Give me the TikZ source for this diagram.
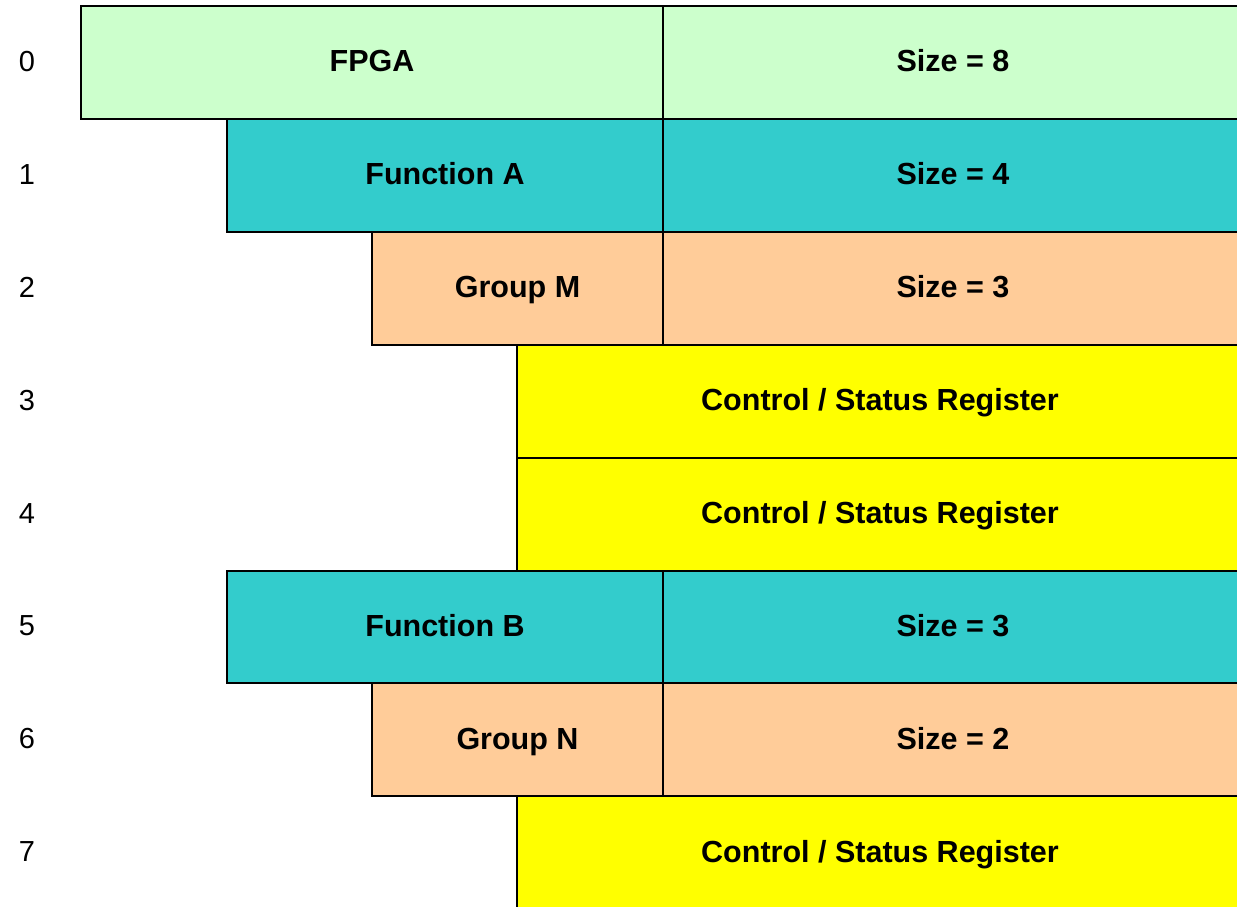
\documentclass[tikz,border=0pt]{standalone}
\usepackage{fontspec}
\setmainfont{Liberation Sans}
\definecolor{fpgafill}{HTML}{CCFFCC}
\definecolor{funcfill}{HTML}{33CCCC}
\definecolor{grpfill}{HTML}{FFCC99}
\definecolor{regfill}{HTML}{FFFF00}
\begin{document}
\begin{tikzpicture}[x=1pt,y=-1pt,
  cell/.style={draw=black, line width=2pt, inner sep=0pt,
    minimum height=112.9pt, text height=19pt, text depth=0pt,
    font=\fontsize{30.5}{36}\selectfont\bfseries},
  fpgacell/.style={cell, fill=fpgafill},
  funccell/.style={cell, fill=funcfill},
  grpcell/.style={cell, fill=grpfill},
  regcell/.style={cell, fill=regfill, minimum width=726pt},
  sizecell/.style={minimum width=580pt},
  idx/.style={inner sep=0pt, text height=18pt, text depth=0pt,
    font=\fontsize{29}{34}\selectfont}]
\useasboundingbox (0,0) rectangle (1237,907);
\clip (0,0) rectangle (1237,907);

% register map rows: pitch 112.9, first row top at 6
\node[fpgacell, minimum width=582pt] (fpga) at (372, 62.45) {FPGA};
\node[fpgacell, sizecell] (fpgasize) at (953, 62.45) {Size = 8};

\node[funccell, minimum width=436pt] (funcA) at (445, 175.35) {Function A};
\node[funccell, sizecell] (funcAsize) at (953, 175.35) {Size = 4};

\node[grpcell, minimum width=291pt] (grpM) at (517.5, 288.25) {Group M};
\node[grpcell, sizecell] (grpMsize) at (953, 288.25) {Size = 3};

\node[regcell] (reg3) at (880, 401.15) {Control / Status Register};
\node[regcell] (reg4) at (880, 514.05) {Control / Status Register};

\node[funccell, minimum width=436pt] (funcB) at (445, 626.95) {Function B};
\node[funccell, sizecell] (funcBsize) at (953, 626.95) {Size = 3};

\node[grpcell, minimum width=291pt] (grpN) at (517.5, 739.85) {Group N};
\node[grpcell, sizecell] (grpNsize) at (953, 739.85) {Size = 2};

\node[regcell] (reg7) at (880, 852.75) {Control / Status Register};

% row indices
\node[idx] (i0) at (27, 62.45) {0};
\node[idx] (i1) at (27, 175.35) {1};
\node[idx] (i2) at (27, 288.25) {2};
\node[idx] (i3) at (27, 401.15) {3};
\node[idx] (i4) at (27, 514.05) {4};
\node[idx] (i5) at (27, 626.95) {5};
\node[idx] (i6) at (27, 739.85) {6};
\node[idx] (i7) at (27, 852.75) {7};
\end{tikzpicture}
\end{document}
